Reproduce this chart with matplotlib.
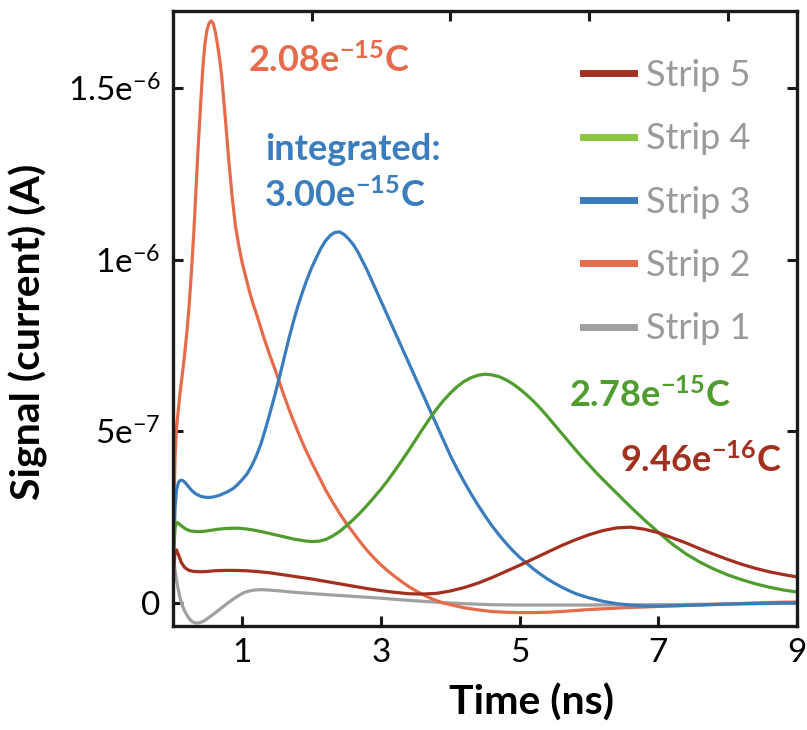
import matplotlib
matplotlib.use("Agg")
import matplotlib.pyplot as plt
from matplotlib.lines import Line2D

plt.rcParams["font.family"] = ["Lato", "DejaVu Sans"]
plt.rcParams["mathtext.fontset"] = "custom"
plt.rcParams["mathtext.rm"] = "Lato"
plt.rcParams["mathtext.it"] = "Lato:italic"
plt.rcParams["mathtext.bf"] = "Lato:bold"
plt.rcParams["mathtext.default"] = "rm"

# ---- signal traces (time in ns, current in units of 1e-6 A) ----
t_strip1 = [0, 0.01, 0.02, 0.04, 0.07, 0.1, 0.13, 0.16, 0.2, 0.24, 0.28, 0.32, 0.37,
            0.42, 0.48, 0.54, 0.6, 0.67, 0.74, 0.81, 0.88, 0.95, 1.02, 1.1, 1.18, 1.27,
            1.37, 1.5, 1.7, 1.9, 2.1, 2.4, 2.7, 3.0, 3.3, 3.6, 3.9, 4.2, 4.6, 5.0, 5.5,
            6.0, 6.5, 7.0, 7.5, 8.0, 8.5, 9.0]
i_strip1 = [0, 0.1, 0.11, 0.08, 0.045, 0.016, -0.005, -0.02, -0.035, -0.047, -0.055,
            -0.058, -0.058, -0.055, -0.048, -0.039, -0.03, -0.019, -0.008, 0.003, 0.013,
            0.022, 0.03, 0.035, 0.038, 0.039, 0.038, 0.036, 0.032, 0.029, 0.026, 0.022,
            0.018, 0.014, 0.009, 0.005, 0.001, -0.002, -0.005, -0.006, -0.006, -0.006,
            -0.005, -0.005, -0.004, -0.003, -0.002, -0.001]

t_strip2 = [0, 0.01, 0.03, 0.05, 0.08, 0.1, 0.13, 0.16, 0.2, 0.23, 0.26, 0.3, 0.33,
            0.36, 0.4, 0.43, 0.46, 0.49, 0.52, 0.55, 0.58, 0.61, 0.64, 0.67, 0.7, 0.73,
            0.76, 0.8, 0.85, 0.9, 0.95, 1.0, 1.05, 1.1, 1.15, 1.2, 1.3, 1.4, 1.5, 1.6,
            1.7, 1.8, 1.9, 2.0, 2.1, 2.2, 2.3, 2.4, 2.5, 2.6, 2.7, 2.8, 2.9, 3.0, 3.1,
            3.2, 3.3, 3.4, 3.5, 3.6, 3.7, 3.8, 3.9, 4.0, 4.2, 4.4, 4.6, 4.8, 5.0, 5.2,
            5.4, 5.6, 5.8, 6.0, 6.3, 6.6, 6.9, 7.2, 7.5, 7.8, 8.1, 8.4, 8.7, 9.0]
i_strip2 = [0, 0.25, 0.43, 0.51, 0.57, 0.61, 0.66, 0.71, 0.79, 0.86, 0.95, 1.08, 1.2,
            1.32, 1.46, 1.56, 1.63, 1.67, 1.69, 1.697, 1.69, 1.665, 1.63, 1.59, 1.54,
            1.47, 1.40, 1.30, 1.19, 1.10, 1.04, 0.99, 0.95, 0.91, 0.875, 0.845, 0.78,
            0.72, 0.665, 0.605, 0.55, 0.50, 0.452, 0.41, 0.37, 0.33, 0.295, 0.262,
            0.232, 0.205, 0.178, 0.153, 0.131, 0.111, 0.093, 0.077, 0.062, 0.048, 0.036,
            0.025, 0.015, 0.007, 0.0, -0.005, -0.014, -0.02, -0.025, -0.027, -0.028,
            -0.028, -0.027, -0.025, -0.022, -0.019, -0.016, -0.013, -0.011, -0.008,
            -0.006, -0.004, -0.002, 0.0, 0.002, 0.003]

t_strip3 = [0, 0.01, 0.03, 0.05, 0.08, 0.11, 0.14, 0.18, 0.22, 0.27, 0.33, 0.4, 0.47,
            0.54, 0.6, 0.67, 0.74, 0.8, 0.87, 0.93, 1.0, 1.07, 1.13, 1.2, 1.27, 1.33,
            1.4, 1.47, 1.53, 1.6, 1.67, 1.74, 1.8, 1.87, 1.93, 2.0, 2.07, 2.13, 2.2,
            2.27, 2.33, 2.4, 2.47, 2.53, 2.6, 2.67, 2.73, 2.8, 2.9, 3.0, 3.1, 3.2, 3.3,
            3.4, 3.5, 3.6, 3.7, 3.8, 3.9, 4.0, 4.1, 4.2, 4.3, 4.4, 4.5, 4.6, 4.7, 4.8,
            4.9, 5.0, 5.1, 5.2, 5.3, 5.4, 5.5, 5.6, 5.7, 5.8, 5.9, 6.0, 6.2, 6.4, 6.6,
            6.8, 7.0, 7.3, 7.6, 7.9, 8.2, 8.5, 8.8, 9.0]
i_strip3 = [0, 0.15, 0.28, 0.33, 0.352, 0.358, 0.357, 0.35, 0.34, 0.328, 0.318, 0.311,
            0.308, 0.308, 0.31, 0.314, 0.32, 0.326, 0.334, 0.345, 0.36, 0.377, 0.398,
            0.428, 0.465, 0.505, 0.555, 0.607, 0.655, 0.712, 0.77, 0.823, 0.865, 0.908,
            0.942, 0.978, 1.008, 1.033, 1.056, 1.072, 1.080, 1.082, 1.074, 1.062, 1.045,
            1.022, 0.998, 0.97, 0.925, 0.88, 0.835, 0.79, 0.745, 0.70, 0.655, 0.61,
            0.565, 0.52, 0.475, 0.43, 0.39, 0.353, 0.318, 0.285, 0.254, 0.225, 0.199,
            0.175, 0.153, 0.133, 0.116, 0.099, 0.084, 0.07, 0.058, 0.047, 0.037, 0.028,
            0.021, 0.015, 0.005, -0.002, -0.006, -0.009, -0.009, -0.008, -0.006,
            -0.004, -0.002, -0.001, 0.0, 0.0]

t_strip4 = [0, 0.01, 0.03, 0.05, 0.08, 0.12, 0.18, 0.25, 0.35, 0.45, 0.55, 0.65, 0.75,
            0.85, 0.95, 1.05, 1.15, 1.3, 1.45, 1.6, 1.75, 1.9, 2.0, 2.1, 2.2, 2.3, 2.4,
            2.5, 2.6, 2.7, 2.8, 2.9, 3.0, 3.1, 3.2, 3.3, 3.4, 3.5, 3.6, 3.7, 3.8, 3.9,
            4.0, 4.1, 4.2, 4.3, 4.4, 4.5, 4.6, 4.7, 4.8, 4.9, 5.0, 5.1, 5.2, 5.3, 5.4,
            5.5, 5.6, 5.7, 5.8, 5.9, 6.0, 6.1, 6.2, 6.3, 6.4, 6.5, 6.6, 6.7, 6.8, 6.9,
            7.0, 7.2, 7.4, 7.6, 7.8, 8.0, 8.2, 8.4, 8.6, 8.8, 9.0]
i_strip4 = [0, 0.15, 0.22, 0.235, 0.232, 0.225, 0.216, 0.21, 0.208, 0.209, 0.212,
            0.215, 0.217, 0.218, 0.218, 0.216, 0.213, 0.207, 0.2, 0.193, 0.186, 0.181,
            0.179, 0.18, 0.185, 0.195, 0.208, 0.225, 0.243, 0.263, 0.285, 0.308, 0.332,
            0.358, 0.386, 0.415, 0.445, 0.476, 0.507, 0.537, 0.565, 0.59, 0.612, 0.631,
            0.646, 0.657, 0.664, 0.667, 0.665, 0.66, 0.651, 0.639, 0.624, 0.607, 0.588,
            0.567, 0.544, 0.52, 0.496, 0.472, 0.448, 0.425, 0.403, 0.381, 0.36, 0.34,
            0.32, 0.30, 0.28, 0.261, 0.242, 0.224, 0.206, 0.172, 0.143, 0.119,
            0.099, 0.082, 0.068, 0.056, 0.046, 0.038, 0.032]

t_strip5 = [0, 0.01, 0.03, 0.05, 0.08, 0.12, 0.17, 0.23, 0.3, 0.4, 0.5, 0.6, 0.75, 0.9,
            1.05, 1.2, 1.4, 1.6, 1.8, 2.0, 2.2, 2.4, 2.6, 2.8, 3.0, 3.2, 3.4, 3.6, 3.8,
            4.0, 4.2, 4.4, 4.6, 4.8, 5.0, 5.2, 5.4, 5.6, 5.8, 6.0, 6.2, 6.4, 6.6, 6.8,
            7.0, 7.2, 7.4, 7.6, 7.8, 8.0, 8.2, 8.4, 8.6, 8.8, 9.0]
i_strip5 = [0, 0.1, 0.15, 0.155, 0.14, 0.118, 0.103, 0.095, 0.092, 0.091, 0.092,
            0.094, 0.095, 0.095, 0.094, 0.092, 0.088, 0.082, 0.076, 0.07, 0.063, 0.056,
            0.049, 0.042, 0.036, 0.031, 0.027, 0.026, 0.028, 0.035, 0.045, 0.058,
            0.074, 0.092, 0.11, 0.129, 0.148, 0.167, 0.184, 0.199, 0.211, 0.219, 0.221,
            0.215, 0.205, 0.19, 0.175, 0.158, 0.142, 0.127, 0.113, 0.101, 0.091, 0.083,
            0.076]

strip_names = ["Strip 5", "Strip 4", "Strip 3", "Strip 2", "Strip 1"]
line_colors = ["#A3301F", "#4F9D2E", "#3A7DBE", "#E66B4B", "#A0A0A0"]
legend_colors = ["#A3301F", "#8CC63F", "#3A7DBE", "#E66B4B", "#A0A0A0"]

charges = ["9.46e$^{\\mathbf{-16}}$C", "2.78e$^{\\mathbf{-15}}$C",
           "3.00e$^{\\mathbf{-15}}$C", "2.08e$^{\\mathbf{-15}}$C"]

x_ticks = [1, 3, 5, 7, 9]
y_ticks = [0, 0.5, 1.0, 1.5]
y_tick_labels = ["0", "5e$^{-7}$", "1e$^{-6}$", "1.5e$^{-6}$"]

fig = plt.figure(figsize=(8.07, 7.30), dpi=100)
ax = fig.add_axes([0.2144, 0.1425, 0.7732, 0.8425])

series = [(t_strip5, i_strip5), (t_strip4, i_strip4), (t_strip3, i_strip3),
          (t_strip2, i_strip2), (t_strip1, i_strip1)]
for (t, i), c in zip(series[::-1], line_colors[::-1]):
    ax.plot(t, i, color=c, lw=2.3, solid_joinstyle="round", solid_capstyle="round")

ax.set_xlim(0, 9)
ax.set_ylim(-0.067, 1.726)

for s in ax.spines.values():
    s.set_linewidth(2.4)
    s.set_color("#1a1a1a")

ax.set_xticks(x_ticks)
ax.set_xticklabels([str(v) for v in x_ticks])
ax.set_yticks(y_ticks)
ax.set_yticklabels(y_tick_labels)
ax.tick_params(axis="both", direction="in", length=7, width=2.2, color="#1a1a1a",
               labelsize=24, pad=9)
ax.tick_params(axis="y", right=True, labelright=False)
top = ax.secondary_xaxis("top")
top.set_xticks([2, 4, 6, 8])
top.tick_params(direction="in", length=7, width=2.2, color="#1a1a1a", labeltop=False)
top.spines["top"].set_visible(False)

ax.set_xlabel("Time (ns)", fontsize=29.5, fontweight="bold")
ax.xaxis.set_label_coords(0.575, -0.093)
ax.set_ylabel("Signal (current) (A)", fontsize=29.5, fontweight="bold")
ax.yaxis.set_label_coords(-0.200, 0.478)

# integrated charge for each strip
ax.text(1.086, 1.548, charges[3], color=line_colors[3], fontsize=26,
        fontweight="bold", va="baseline", ha="left")
ax.text(1.327, 1.291, "integrated:", color=line_colors[2], fontsize=26,
        fontweight="bold", va="baseline", ha="left")
ax.text(1.31, 1.154, charges[2], color=line_colors[2], fontsize=26,
        fontweight="bold", va="baseline", ha="left")
ax.text(5.716, 0.572, charges[1], color=line_colors[1], fontsize=26,
        fontweight="bold", va="baseline", ha="left")
ax.text(6.447, 0.383, charges[0], color=line_colors[0], fontsize=26,
        fontweight="bold", va="baseline", ha="left")

handles = [Line2D([], [], color=c, lw=5) for c in legend_colors]
leg = ax.legend(handles, strip_names, loc="upper left", bbox_to_anchor=(0.657, 0.922),
                frameon=False, fontsize=26, handlelength=1.4, handletextpad=0.35,
                labelspacing=0.84, borderpad=0, borderaxespad=0)
for txt in leg.get_texts():
    txt.set_color("#9A9A9A")

fig.savefig("out.png", dpi=100)
